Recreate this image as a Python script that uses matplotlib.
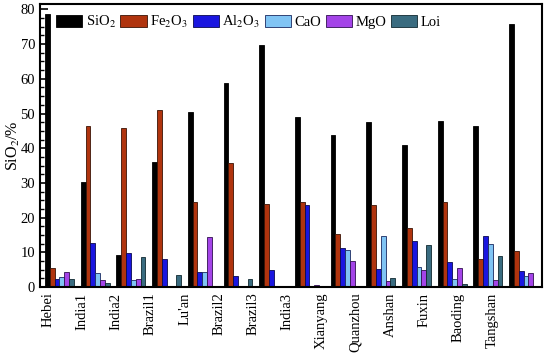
import numpy as np
import matplotlib
matplotlib.use('Agg')
import matplotlib.pyplot as plt
from matplotlib.ticker import MultipleLocator

plt.rcParams['font.family'] = ['Liberation Serif', 'DejaVu Serif']
plt.rcParams['mathtext.fontset'] = 'stix'

sites = ['Hebei', 'India1', 'India2', 'Brazil1', "Lu'an", 'Brazil2', 'Brazil3',
         'India3', 'Xianyang', 'Quanzhou', 'Anshan', 'Fuxin', 'Baoding', 'Tangshan']
components = ['SiO$_2$', 'Fe$_2$O$_3$', 'Al$_2$O$_3$', 'CaO', 'MgO', 'Loi']

sio2 = [78.7, 30.4, 9.1, 36.0, 50.4, 58.8, 69.8, 49.1, 43.7, 47.5, 41.0, 47.7, 46.5, 75.8]
fe2o3 = [5.6, 46.3, 45.8, 51.1, 24.6, 35.7, 24.0, 24.6, 15.2, 23.7, 17.0, 24.6, 8.2, 10.3]
al2o3 = [2.3, 12.6, 9.8, 8.0, 4.3, 3.2, 4.9, 23.5, 11.1, 5.2, 13.3, 7.3, 14.6, 4.6]
cao = [2.9, 4.1, 2.0, 0.0, 4.4, 0.0, 0.0, 0.3, 10.8, 14.8, 5.7, 2.3, 12.4, 3.1]
mgo = [4.4, 1.9, 2.3, 0.4, 14.5, 0.0, 0.0, 0.5, 7.5, 1.6, 5.0, 5.4, 2.1, 4.0]
loi = [2.4, 1.1, 8.7, 3.5, 0.0, 2.3, 0.0, 0.0, 0.0, 2.5, 12.0, 0.8, 9.0, 0.0]

colors = ['#000000', '#b0340e', '#1a16e0', '#80c4f4', '#a444e8', '#3a6c80']
edges = ['#000000', '#3a1406', '#0a0a50', '#1a2a60', '#301050', '#102830']

fig = plt.figure(figsize=(5.5, 3.53), dpi=100)
ax = fig.add_axes([0.0727, 0.187, 0.9128, 0.802])

x = np.arange(len(sites))
w = 0.135
for k, vals in enumerate([sio2, fe2o3, al2o3, cao, mgo, loi]):
    ax.bar(x + k * w, vals, width=w, align='edge', color=colors[k],
           edgecolor=edges[k], linewidth=0.6, label=components[k])

ax.set_xlim(-0.14, 13.92)
ax.set_ylim(0, 81.6)
ax.yaxis.set_major_locator(MultipleLocator(10))
ax.yaxis.set_minor_locator(MultipleLocator(2.5))
ax.tick_params(axis='y', which='major', direction='in', length=6, width=1.2, labelsize=10.5)
ax.tick_params(axis='y', which='minor', direction='in', length=3, width=1)
ax.set_xticks(0.084 + 0.958 * x)
ax.set_xticklabels(sites, rotation=90, fontsize=10.5)
ax.tick_params(axis='x', length=0, pad=4)
for s in ax.spines.values():
    s.set_linewidth(1.5)
ax.set_ylabel('SiO$_2$/%', fontsize=11.5, labelpad=-1)

ax.legend(loc='upper left', bbox_to_anchor=(0.012, 1.0), ncol=6, frameon=False,
          fontsize=10.5, handlelength=1.8, handleheight=0.9, handletextpad=0.25,
          columnspacing=0.3, borderaxespad=0.3)

fig.savefig('out.png', dpi=100)
